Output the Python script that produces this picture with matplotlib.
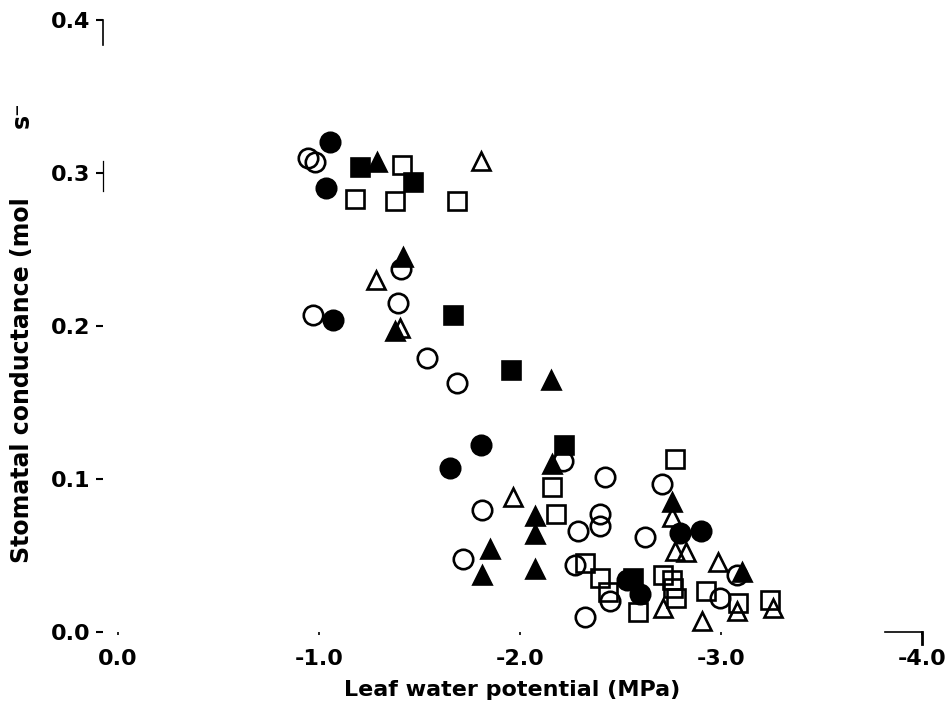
import matplotlib
matplotlib.use("Agg")
import matplotlib.pyplot as plt

plt.rcParams['font.family'] = ['DejaVu Sans']
plt.rcParams['font.weight'] = 'bold'

# leaf water potential (MPa) / stomatal conductance
open_circle_x = [-0.945, -0.980, -1.408, -1.393, -0.970, -1.537, -1.687, -2.214, -2.423, -2.706,
                 -1.811, -2.398, -2.398, -2.289, -2.622, -1.716, -2.274, -2.448, -2.323, -3.080, -2.995]
open_circle_y = [0.310, 0.307, 0.237, 0.215, 0.207, 0.179, 0.163, 0.112, 0.101, 0.097,
                 0.080, 0.077, 0.069, 0.066, 0.062, 0.048, 0.044, 0.020, 0.010, 0.037, 0.022]

filled_circle_x = [-1.055, -1.035, -1.070, -1.652, -1.806, -2.796, -2.900, -2.532, -2.597]
filled_circle_y = [0.320, 0.290, 0.204, 0.107, 0.122, 0.065, 0.066, 0.034, 0.025]

open_square_x = [-1.179, -1.378, -1.687, -1.413, -2.159, -2.179, -2.771, -2.323, -2.398,
                 -2.438, -2.587, -2.711, -2.756, -2.761, -2.776, -2.925, -3.085, -3.244]
open_square_y = [0.283, 0.282, 0.282, 0.305, 0.095, 0.077, 0.113, 0.045, 0.035,
                 0.026, 0.013, 0.037, 0.034, 0.029, 0.022, 0.027, 0.019, 0.021]

filled_square_x = [-1.204, -1.468, -1.667, -1.955, -2.219, -2.562]
filled_square_y = [0.304, 0.294, 0.207, 0.171, 0.122, 0.035]

open_tri_x = [-1.806, -1.284, -1.403, -1.965, -2.756, -2.771, -2.826, -2.985, -2.711, -2.905, -3.080, -3.259]
open_tri_y = [0.308, 0.230, 0.199, 0.088, 0.075, 0.053, 0.052, 0.046, 0.016, 0.007, 0.014, 0.016]

filled_tri_x = [-1.289, -1.418, -1.378, -2.154, -2.159, -2.756, -2.075, -2.075, -1.851, -1.811, -2.075, -3.104]
filled_tri_y = [0.307, 0.245, 0.197, 0.165, 0.110, 0.085, 0.076, 0.064, 0.054, 0.037, 0.041, 0.039]

x_ticks = [0.0, -1.0, -2.0, -3.0, -4.0]
x_ticklabels = ['0.0', '-1.0', '-2.0', '-3.0', '-4.0']
y_ticks = [0.0, 0.1, 0.2, 0.3, 0.4]
y_ticklabels = ['0.0', '0.1', '0.2', '0.3', '0.4']

fig = plt.figure(figsize=(9.53, 7.13), dpi=100)
ax = fig.add_axes([0.1081, 0.1136, 0.8594, 0.8583])

mew = 1.9
ax.plot(open_circle_x, open_circle_y, 'o', ms=14, mfc='none', mec='black', mew=mew, clip_on=False)
ax.plot(open_square_x, open_square_y, 's', ms=12.5, mfc='none', mec='black', mew=mew, clip_on=False)
ax.plot(open_tri_x, open_tri_y, '^', ms=13.5, mfc='none', mec='black', mew=mew, clip_on=False)
ax.plot(filled_circle_x, filled_circle_y, 'o', ms=14, mfc='black', mec='black', mew=mew, clip_on=False)
ax.plot(filled_square_x, filled_square_y, 's', ms=12.5, mfc='black', mec='black', mew=mew, clip_on=False)
ax.plot(filled_tri_x, filled_tri_y, '^', ms=13.5, mfc='black', mec='black', mew=mew, clip_on=False)

ax.set_xlim(0.075, -4.0)
ax.set_ylim(0, 0.4)

# the scanned axes have almost faded away
for s in ax.spines.values():
    s.set_visible(False)
ax.plot([0, 0], [0.96, 1.0], color='black', lw=1.2, transform=ax.transAxes, clip_on=False)
ax.plot([0, 0], [0.72, 0.77], color='black', lw=0.9, transform=ax.transAxes, clip_on=False)
ax.plot([0.955, 1.0], [0, 0], color='black', lw=1.2, transform=ax.transAxes, clip_on=False)
ax.plot([1.0, 1.0], [0, -0.02], color='black', lw=2, transform=ax.transAxes, clip_on=False)

ax.set_xticks(x_ticks)
ax.set_xticklabels(x_ticklabels)
ax.set_yticks(y_ticks)
ax.set_yticklabels(y_ticklabels)
ax.tick_params(axis='x', length=2, width=1.2, direction='out', pad=10, labelsize=16)
ax.tick_params(axis='y', length=5, width=1.5, direction='out', pad=4, labelsize=16)

ax.set_xlabel('Leaf water potential (MPa)', fontsize=16, fontweight='bold', labelpad=8)
fig.text(22 / 953, 1 - 380 / 713, 'Stomatal conductance (mol', rotation=90,
         ha='center', va='center', fontsize=17, fontweight='bold')
fig.text(22 / 953, 1 - 115 / 713, 's\u207b', rotation=90,
         ha='center', va='center', fontsize=17, fontweight='bold')

fig.savefig('out.png', dpi=100)
